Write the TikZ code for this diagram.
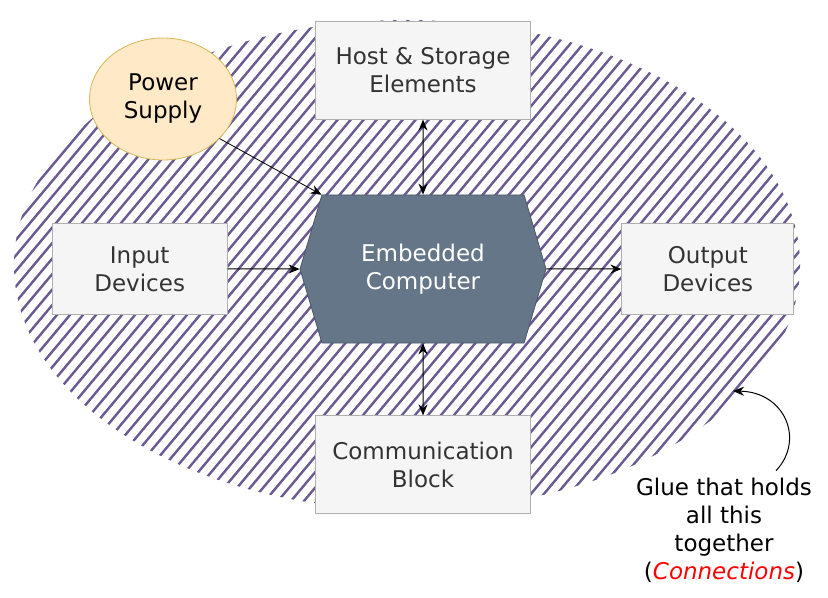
\documentclass[tikz,border=0pt]{standalone}
\usepackage{fontspec}
\setmainfont{DejaVu Sans}
\definecolor{hatch}{HTML}{6A5A94}
\definecolor{boxfill}{HTML}{F5F5F5}
\definecolor{boxline}{HTML}{B0B0B0}
\definecolor{ink}{HTML}{333333}
\definecolor{corefill}{HTML}{647687}
\definecolor{coreline}{HTML}{4A5866}
\definecolor{psfill}{HTML}{FFE9C6}
\definecolor{psline}{HTML}{D6B656}
\usetikzlibrary{arrows.meta, positioning, shapes.geometric, shapes.symbols}

\begin{document}
\begin{tikzpicture}[x=0.5pt,y=-0.5pt,
    blk/.style={draw=boxline,fill=boxfill,minimum width=107.5pt,minimum height=49pt,align=center,font=\fontsize{11.5}{14}\selectfont,text=ink,inner sep=2pt},
    core/.style={shape=signal,signal to=west and east,signal pointer angle=147,draw=coreline,fill=corefill,minimum width=123pt,minimum height=74pt,align=center,font=\fontsize{11.5}{14}\selectfont,text=white},
    link/.style={-{Stealth[length=5.5pt,width=4.5pt]},line width=0.5pt},
    both/.style={{Stealth[length=5.5pt,width=4.5pt]}-{Stealth[length=5.5pt,width=4.5pt]},line width=0.5pt},
    hl/.style={hatch,line width=1.2pt}]
    \useasboundingbox (0,0) rectangle (828,598);
    % hatched glue area
    \begin{scope}
      \clip (407,265) ellipse [x radius=196.5pt, y radius=122.5pt];
      \foreach \i in {-520,-507,...,830}
        \draw[hl] (\i,600) -- (\i+503,0);
    \end{scope}
    \node[core] (core) at (423,269) {Embedded\\Computer};
    \node[blk,above=37.5pt of core] (host) {Host \& Storage\\Elements};
    \node[blk,below=36pt of core] (comm) {Communication\\Block};
    \node[blk,minimum width=87.5pt,minimum height=45.5pt,left=36pt of core] (in) {Input\\Devices};
    \node[blk,minimum width=86pt,minimum height=45.5pt,right=37.5pt of core] (out) {Output\\Devices};
    \node[ellipse,draw=psline,fill=psfill,minimum width=73.5pt,minimum height=61pt,align=center,font=\fontsize{11.5}{14}\selectfont,inner sep=0pt] (ps) at (163,99) {Power\\Supply};
    \draw[both] (host) -- (core);
    \draw[both] (comm) -- (core);
    \draw[link] (in) -- (core);
    \draw[link] (core) -- (out);
    \draw[link,line width=0.4pt] (ps.-35) -- (core.north west);
    % note
    \node[align=center,font=\fontsize{11.5}{14}\selectfont] (glue) at (724,530) {Glue that holds\\all this\\together\\(\textcolor{red}{\itshape Connections})};
    \coordinate (gluetip) at (733,391);
    \draw[link] ([xshift=26pt]glue.north) .. controls (805,440) and (785,392) .. (gluetip);
\end{tikzpicture}
\end{document}
